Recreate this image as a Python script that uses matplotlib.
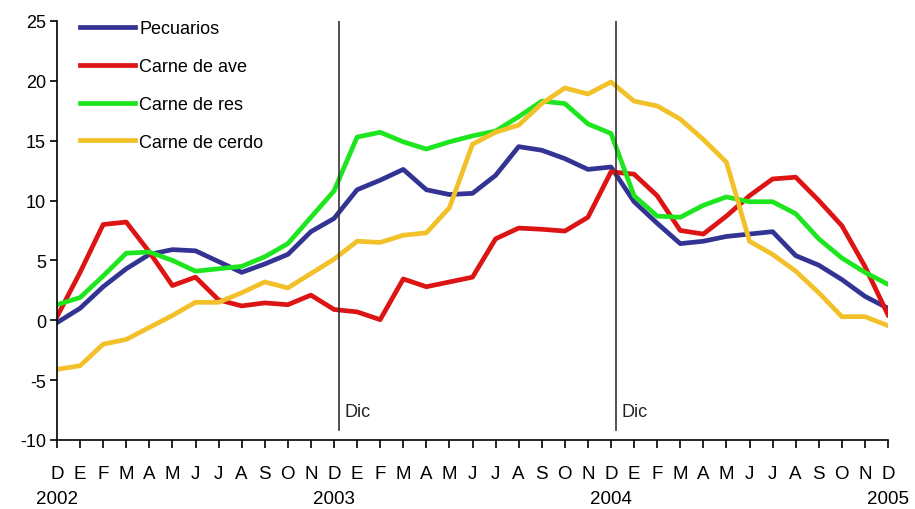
import matplotlib
matplotlib.use("Agg")
import matplotlib.pyplot as plt

plt.rcParams['font.family'] = ['Liberation Sans', 'DejaVu Sans']
plt.rcParams['axes.unicode_minus'] = False

months = ["D", "E", "F", "M", "A", "M", "J", "J", "A", "S", "O", "N"] * 3 + ["D"]
years = {0: "2002", 12: "2003", 24: "2004", 36: "2005"}

pecuarios = [-0.2, 1.0, 2.8, 4.3, 5.5, 5.9, 5.8, 4.9, 4.0, 4.7, 5.5, 7.4,
             8.5, 10.9, 11.7, 12.6, 10.9, 10.5, 10.6, 12.1, 14.5, 14.2, 13.5, 12.6,
             12.8, 9.9, 8.1, 6.4, 6.6, 7.0, 7.2, 7.4, 5.4, 4.6, 3.4, 2.0, 1.0]
ave = [0.3, 4.0, 8.0, 8.2, 5.7, 2.9, 3.6, 1.7, 1.2, 1.45, 1.3, 2.1,
       0.9, 0.7, 0.05, 3.45, 2.8, 3.2, 3.6, 6.8, 7.7, 7.6, 7.45, 8.6,
       12.4, 12.2, 10.4, 7.5, 7.2, 8.7, 10.4, 11.8, 11.95, 10.0, 7.9, 4.5, 0.45]
res = [1.3, 1.9, 3.7, 5.6, 5.7, 5.0, 4.1, 4.3, 4.5, 5.3, 6.4, 8.6,
       10.8, 15.3, 15.7, 14.9, 14.3, 14.9, 15.4, 15.8, 17.0, 18.3, 18.1, 16.4,
       15.6, 10.4, 8.7, 8.6, 9.6, 10.3, 9.9, 9.9, 8.9, 6.8, 5.2, 4.0, 3.0]
cerdo = [-4.1, -3.8, -2.0, -1.6, -0.6, 0.4, 1.5, 1.5, 2.3, 3.2, 2.7, 3.9,
         5.1, 6.6, 6.5, 7.1, 7.3, 9.4, 14.7, 15.7, 16.3, 18.1, 19.4, 18.9,
         19.9, 18.3, 17.9, 16.8, 15.1, 13.2, 6.6, 5.5, 4.1, 2.3, 0.3, 0.3, -0.45]

series = [
    ("Pecuarios", pecuarios, "#333394"),
    ("Carne de ave", ave, "#DD1414"),
    ("Carne de res", res, "#1EE61E"),
    ("Carne de cerdo", cerdo, "#F2C12A"),
]
dec_markers = [12.2, 24.2]
dec_label = "Dic"

fig = plt.figure(figsize=(9.15, 5.10), dpi=100)
ax = fig.add_axes([0.0623, 0.1353, 0.9082, 0.8217])

x = list(range(len(months)))
for name, vals, col in series:
    ax.plot(x, vals, color=col, lw=3.4, label=name, solid_joinstyle='round')

for xm in dec_markers:
    ax.plot([xm, xm], [-9.2, 25], color="#333333", lw=1.2)
    ax.text(xm + 0.25, -7.6, dec_label, fontsize=13, va="center", ha="left", color="#222222")

ax.set_xlim(0, 36)
ax.set_ylim(-10, 25)
ax.set_yticks(range(-10, 26, 5))
ax.set_xticks(x)
ax.set_xticklabels(months, fontsize=13.5)
ax.tick_params(axis="y", labelsize=13, length=5, width=1.2, direction="out", pad=3)
ax.tick_params(axis="x", length=6, width=1.2, direction="out", pad=12)

for i, yr in years.items():
    ax.annotate(yr, xy=(i, 0), xycoords=("data", "axes fraction"),
                xytext=(0, -42), textcoords="offset points",
                ha="center", va="center", fontsize=13.5)

ax.spines["top"].set_visible(False)
ax.spines["right"].set_visible(False)
ax.spines["left"].set_linewidth(1.2)
ax.spines["bottom"].set_linewidth(1.2)

leg = ax.legend(loc="upper left", bbox_to_anchor=(0.008, 1.04), frameon=False,
                fontsize=13, handlelength=3.05, handletextpad=0.25, labelspacing=1.15)

fig.savefig("out.png", dpi=100)
